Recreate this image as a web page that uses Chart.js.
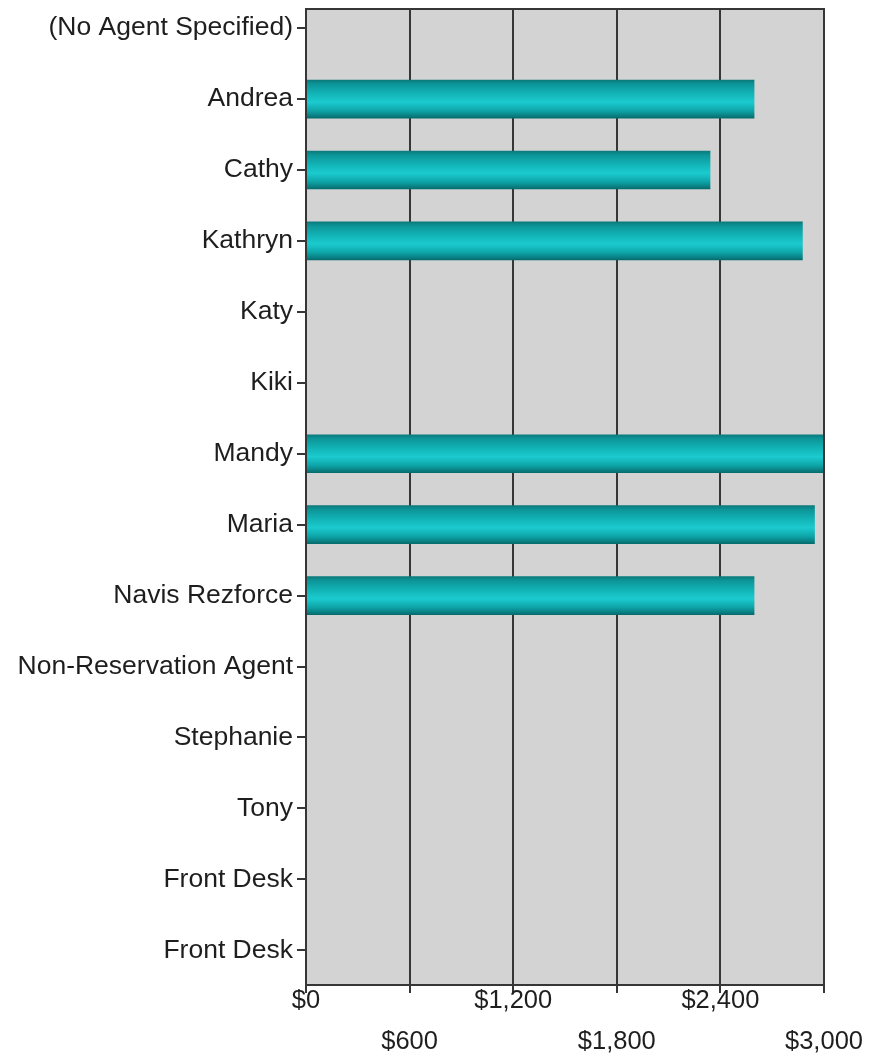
<!DOCTYPE html>
<html>
<head>
<meta charset="utf-8">
<script src="https://cdn.jsdelivr.net/npm/chart.js@4/dist/chart.umd.min.js"></script>
<style>
  html, body { margin: 0; padding: 0; background: #ffffff; }
  #wrap { width: 869px; height: 1053px; position: relative; }
</style>
</head>
<body>
<div id="wrap"><canvas id="c" width="869" height="1053"></canvas></div>
<script>
// Agents listed top to bottom
const agents = [
  '(No Agent Specified)', 'Andrea', 'Cathy', 'Kathryn', 'Katy', 'Kiki',
  'Mandy', 'Maria', 'Navis Rezforce', 'Non-Reservation Agent',
  'Stephanie', 'Tony', 'Front Desk', 'Front Desk'
];

// Revenue per agent (USD)
const revenue = [0, 2595, 2340, 2875, 0, 0, 3000, 2945, 2595, 0, 0, 0, 0, 0];

// Value-axis tick marks and their labels
const tickValues = [0, 600, 1200, 1800, 2400, 3000];
const tickLabels = ['$0', '$600', '$1,200', '$1,800', '$2,400', '$3,000'];

const BAR_H = 38;
const FONT = "'Liberation Sans', Arial, sans-serif";
const INK = '#1e1e1e';
const GRID = '#363636';

// Teal cylinder fill for one bar, built around its row on the y scale
function barFill(ctx) {
  const chart = ctx.chart;
  const ys = chart.scales && chart.scales.y;
  if (!ys || ctx.dataIndex === undefined) return '#12b8bb';
  const cy = ys.getPixelForValue(ctx.dataIndex);
  if (!isFinite(cy)) return '#12b8bb';
  const g = chart.ctx.createLinearGradient(0, cy - BAR_H / 2, 0, cy + BAR_H / 2);
  g.addColorStop(0.00, '#0b7a7c');
  g.addColorStop(0.10, '#0c9497');
  g.addColorStop(0.35, '#12b3b6');
  g.addColorStop(0.58, '#1bcbcf');
  g.addColorStop(0.80, '#0ea6a9');
  g.addColorStop(0.94, '#097f82');
  g.addColorStop(1.00, '#066b6d');
  return g;
}

// Grey plot panel behind the bars and dark frame around it
const panel = {
  id: 'panel',
  beforeDraw(chart) {
    const { ctx, chartArea: a } = chart;
    ctx.save();
    ctx.fillStyle = '#d3d3d3';
    ctx.fillRect(a.left, a.top, a.right - a.left, a.bottom - a.top);
    ctx.restore();
  },
  afterDraw(chart) {
    const { ctx, chartArea: a } = chart;
    ctx.save();
    ctx.strokeStyle = GRID;
    ctx.lineWidth = 2;
    ctx.strokeRect(a.left, a.top, a.right - a.left, a.bottom - a.top);
    ctx.restore();
  }
};

new Chart(document.getElementById('c'), {
  type: 'bar',
  data: {
    datasets: [{
      data: revenue.map((v, i) => ({ x: v, y: i })),
      backgroundColor: barFill,
      borderWidth: 0,
      barThickness: BAR_H
    }]
  },
  options: {
    indexAxis: 'y',
    responsive: false,
    animation: false,
    devicePixelRatio: 1,
    layout: { padding: { top: 9, right: 45, left: 0, bottom: 0 } },
    plugins: { legend: { display: false }, tooltip: { enabled: false } },
    scales: {
      x: {
        type: 'linear',
        min: 0,
        max: 3000,
        afterBuildTicks: s => { s.ticks = tickValues.map(v => ({ value: v })); },
        afterFit: s => { s.height = 68; s.paddingLeft = 0; s.paddingRight = 0; },
        grid: { color: GRID, lineWidth: 2, tickLength: 8, tickColor: GRID },
        border: { display: false },
        ticks: {
          color: INK,
          font: { family: FONT, size: 25.5, lineHeight: 1.6 },
          padding: -12,
          maxRotation: 0,
          autoSkip: false,
          callback: (v, i) => {
            const t = tickLabels[tickValues.indexOf(v)];
            return i % 2 === 0 ? [t, ''] : ['', t];
          }
        }
      },
      y: {
        type: 'linear',
        reverse: true,
        offset: false,
        min: -0.27,
        max: 13.49,
        afterBuildTicks: s => { s.ticks = agents.map((_, i) => ({ value: i })); },
        afterFit: s => { s.width = 306; s.paddingTop = 0; s.paddingBottom = 0; },
        grid: { offset: false, drawOnChartArea: false, drawTicks: true, tickLength: 9, tickColor: GRID, lineWidth: 2 },
        border: { display: false },
        ticks: {
          color: INK,
          font: { family: FONT, size: 26.5 },
          padding: 4,
          autoSkip: false,
          callback: v => agents[v]
        }
      }
    }
  },
  plugins: [panel]
});
</script>
</body>
</html>
